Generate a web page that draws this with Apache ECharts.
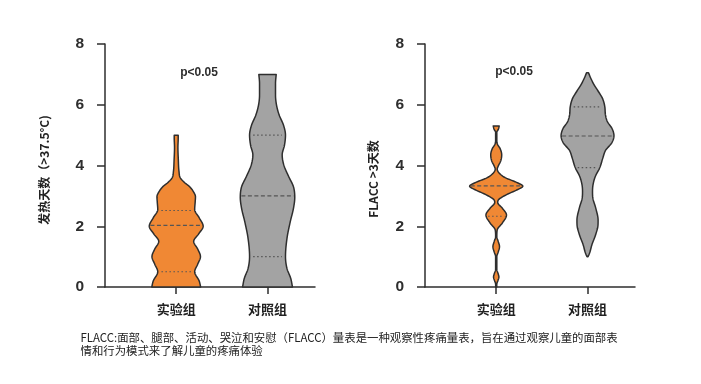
<!DOCTYPE html>
<html><head><meta charset="utf-8">
<script src="https://cdn.jsdelivr.net/npm/echarts@6/dist/echarts.min.js"></script>
<style>html,body{margin:0;padding:0;background:#fff}#c{width:701px;height:384px}</style>
</head><body><div id="c"></div>
<script>
// ---------- data ----------
const categories = ['实验组', '对照组'];
const yTickValues = [0, 2, 4, 6, 8];
const catTickValues = [0, 1];
const pLabel = 'p<0.05';
const leftAxisName = '发热天数（>37.5°C)';
const rightAxisName = 'FLACC >3天数';
const caption = 'FLACC:面部、腿部、活动、哭泣和安慰（FLACC）量表是一种观察性疼痛量表，旨在通过观察儿童的面部表\n情和行为模式来了解儿童的疼痛体验';

// violin profiles: value levels and relative half-width (density) at each level
const feverExpY = [0, 0.2, 0.5, 0.75, 1.0, 1.25, 1.5, 1.75, 2.0, 2.28, 2.55, 2.8, 2.97, 3.15, 3.3, 3.45, 3.6, 3.8, 4.2, 4.6, 4.9, 5.0];
const feverExpW = [24.5, 23, 18.5, 21.5, 24.3, 21.5, 17.5, 22.5, 27, 23, 18.5, 19, 19.3, 17, 13.5, 8, 4, 2.8, 2.1, 1.7, 2, 2];
const feverExpQ = [0.5, 2.03, 2.52];

const feverCtrlY = [0, 0.28, 0.61, 1.0, 1.6, 2.15, 2.59, 2.95, 3.3, 3.63, 4.02, 4.35, 4.67, 5.0, 5.33, 5.66, 5.99, 6.32, 6.7, 7.0];
const feverCtrlW = [25, 23.3, 19.5, 18, 19.5, 22.8, 26, 27.3, 26, 21.3, 16.3, 14.7, 17, 18, 16, 11.7, 9, 8, 8, 8.7];
const feverCtrlQ = [1.0, 3.0, 5.0];

const flaccExpY = [0, 0.1, 0.22, 0.33, 0.45, 0.58, 1.0, 1.15, 1.33, 1.5, 1.66, 1.88, 2.1, 2.37, 2.6, 2.78, 2.88, 3.05, 3.2, 3.32, 3.45, 3.6, 3.75, 3.88, 3.98, 4.15, 4.35, 4.55, 4.72, 4.85, 5.1, 5.18, 5.3];
const flaccExpW = [0.5, 0.6, 1.8, 2.7, 1.8, 0.6, 0.6, 2, 3.3, 2, 0.6, 1, 6, 10.3, 6, 1.5, 2.5, 11, 21, 26.7, 20, 9, 3, 1, 2, 4.5, 5.5, 4, 1, 0.6, 0.6, 2, 3];
const flaccExpQ = [2.33, 3.33, null];

const flaccCtrlY = [1.0, 1.11, 1.38, 1.71, 2.04, 2.2, 2.59, 2.92, 3.15, 3.36, 3.63, 3.93, 4.24, 4.51, 4.73, 4.98, 5.22, 5.44, 5.66, 5.94, 6.21, 6.43, 6.65, 6.87, 7.05];
const flaccCtrlW = [0.5, 2, 4.3, 8, 10.5, 10.6, 8.3, 5.4, 5.0, 5.5, 7.7, 12.3, 15.3, 18.3, 24, 26.5, 24.5, 20, 18, 17.3, 15, 11, 6.7, 3.3, 1];
const flaccCtrlQ = [3.93, 4.97, 5.93];

// ---------- styling ----------
const ORANGE = '#F08834';
const GRAY = '#A3A3A3';
const INK = '#2e2e2e';
const WIDTH_SCALE = 1 / 91.5; // density unit -> category units

// monotone cubic interpolation (shape smoothing only)
function monotone(xs, ys) {
  const n = xs.length, d = [], m = new Array(n);
  for (let i = 0; i < n - 1; i++) d.push((ys[i + 1] - ys[i]) / (xs[i + 1] - xs[i]));
  m[0] = d[0]; m[n - 1] = d[n - 2];
  for (let i = 1; i < n - 1; i++) m[i] = d[i - 1] * d[i] <= 0 ? 0 : (d[i - 1] + d[i]) / 2;
  for (let i = 0; i < n - 1; i++) {
    if (d[i] === 0) { m[i] = 0; m[i + 1] = 0; continue; }
    const a = m[i] / d[i], b = m[i + 1] / d[i], s = a * a + b * b;
    if (s > 9) { const t = 3 / Math.sqrt(s); m[i] = t * a * d[i]; m[i + 1] = t * b * d[i]; }
  }
  return function (x) {
    if (x <= xs[0]) return ys[0];
    if (x >= xs[n - 1]) return ys[n - 1];
    let k = 0; while (x > xs[k + 1]) k++;
    const h = xs[k + 1] - xs[k], t = (x - xs[k]) / h, t2 = t * t, t3 = t2 * t;
    return (2 * t3 - 3 * t2 + 1) * ys[k] + (t3 - 2 * t2 + t) * h * m[k] + (-2 * t3 + 3 * t2) * ys[k + 1] + (t3 - t2) * h * m[k + 1];
  };
}

function violinSeries(gridIdx, ys, ws, qs, color, cat) {
  const f = monotone(ys, ws);
  return {
    type: 'custom', xAxisIndex: gridIdx, yAxisIndex: gridIdx, silent: true,
    data: [[cat, ys[0]]],
    renderItem: function (params, api) {
      const c = api.value(0);
      const unit = api.size([1, 0])[0];
      const y0 = ys[0], y1 = ys[ys.length - 1];
      const samples = [];
      const N = 240;
      for (let i = 0; i <= N; i++) samples.push(y0 + (y1 - y0) * i / N);
      const left = [], right = [];
      samples.forEach(v => {
        const p = api.coord([c, v]);
        const h = Math.max(0.3, f(v)) * WIDTH_SCALE * unit;
        left.push([p[0] - h, p[1]]);
        right.push([p[0] + h, p[1]]);
      });
      const pts = left.concat(right.reverse());
      const children = [{
        type: 'polygon', shape: { points: pts },
        style: { fill: color, stroke: INK, lineWidth: 1.5, lineJoin: 'round' }
      }];
      qs.forEach((q, i) => {
        if (q === null) return;
        const p = api.coord([c, q]);
        const h = f(q) * WIDTH_SCALE * unit;
        const isMed = i === 1;
        const k = isMed ? 0.96 : 0.8;
        children.push({
          type: 'line',
          shape: { x1: p[0] - h * k, y1: p[1], x2: p[0] + h * k, y2: p[1] },
          style: { stroke: '#555', lineWidth: 1.1, lineDash: isMed ? [4, 2.5] : [1.5, 2.5] }
        });
      });
      return { type: 'group', children: children };
    }
  };
}

function yAxis(gridIdx, name, shift) {
  return {
    gridIndex: gridIdx, type: 'value', min: 0, max: 8, interval: 2,
    name: name, nameLocation: 'middle', nameRotate: 90, nameGap: gridIdx === 0 ? 55 : 46,
    nameTextStyle: { fontSize: 12, fontWeight: 'bold', color: '#222', fontFamily: 'Noto Sans CJK SC', padding: [0, shift, 0, 0] },
    axisLine: { show: true, onZero: false, lineStyle: { color: INK, width: 1.5 } },
    axisTick: { show: true, length: 8, lineStyle: { color: INK, width: 1.5 } },
    axisLabel: { fontSize: 15.5, fontWeight: 'bold', color: INK, margin: 21, fontFamily: 'Liberation Sans' },
    splitLine: { show: false }
  };
}
function xAxis(gridIdx) {
  return {
    gridIndex: gridIdx, type: 'value', min: -0.78, max: 1.52,
    axisLine: { show: true, onZero: false, lineStyle: { color: INK, width: 1.5 } },
    axisTick: { show: true, length: 7, customValues: catTickValues, lineStyle: { color: INK, width: 1.5 } },
    axisLabel: { customValues: catTickValues, formatter: v => categories[Math.round(v)], fontSize: 13, fontWeight: 'bold', color: '#222', margin: 16, fontFamily: 'Noto Sans CJK SC' },
    splitLine: { show: false }
  };
}

const chart = echarts.init(document.getElementById('c'), null, { renderer: 'canvas' });
chart.setOption({
  animation: false,
  backgroundColor: '#fff',
  grid: [
    { left: 105, top: 44, width: 210, height: 243 },
    { left: 425, top: 44, width: 210, height: 243 }
  ],
  xAxis: [xAxis(0), xAxis(1)],
  yAxis: [yAxis(0, leftAxisName, 9), yAxis(1, rightAxisName, 27)],
  series: [
    violinSeries(0, feverExpY, feverExpW, feverExpQ, ORANGE, 0),
    violinSeries(0, feverCtrlY, feverCtrlW, feverCtrlQ, GRAY, 1),
    violinSeries(1, flaccExpY, flaccExpW, flaccExpQ, ORANGE, 0),
    violinSeries(1, flaccCtrlY, flaccCtrlW, flaccCtrlQ, GRAY, 1)
  ],
  graphic: [
    { type: 'text', x: 199, y: 73, style: { text: pLabel, align: 'center', verticalAlign: 'middle', font: 'bold 12px "Liberation Sans"', fill: INK } },
    { type: 'text', x: 514, y: 72, style: { text: pLabel, align: 'center', verticalAlign: 'middle', font: 'bold 12px "Liberation Sans"', fill: INK } },
    { type: 'text', x: 80.5, y: 331, style: { text: caption, align: 'left', verticalAlign: 'top', font: '11.4px "Noto Sans CJK SC"', fill: '#222', lineHeight: 13 } }
  ]
});
</script></body></html>
